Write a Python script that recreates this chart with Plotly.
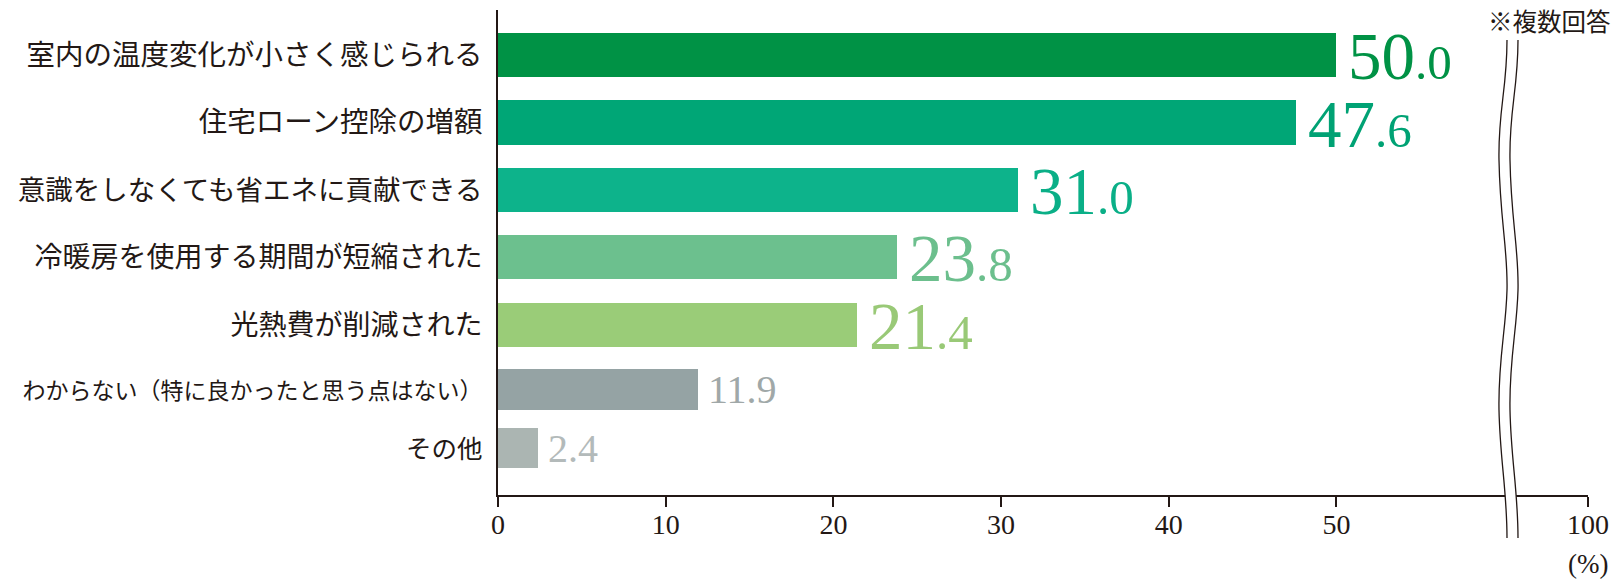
import plotly.graph_objects as go

# ---- data ----
categories = [
    "室内の温度変化が小さく感じられる",
    "住宅ローン控除の増額",
    "意識をしなくても省エネに貢献できる",
    "冷暖房を使用する期間が短縮された",
    "光熱費が削減された",
    "わからない（特に良かったと思う点はない）",
    "その他",
]
values = [50.0, 47.6, 31.0, 23.8, 21.4, 11.9, 2.4]
x_tick_vals = [0, 10, 20, 30, 40, 50]
x_tick_text = ["0", "10", "20", "30", "40", "50"]
break_label = "100"
note_text = "※複数回答"
unit_text = "(%)"

# ---- layout / style constants ----
W, H = 1616, 584
PL, PR, PT, PB = 498, 1588, 10, 495      # plot area in px
X_MAX = 65                                # axis units shown up to the break ("100" drawn at X_MAX)
ROW_Y = [45, 112.5, 180, 247, 315, 379.5, 438]   # row centres (px from plot top)
ROW_W = [44, 45, 44, 44, 44, 41, 40]
bar_colors = ["#009245", "#00a676", "#0db38b", "#6cc08e", "#9acc78", "#95a3a4", "#abb5b2"]
text_colors = ["#009245", "#00a274", "#0aaf87", "#6cbf8d", "#99c977", "#a0a8a8", "#b3baba"]
label_sizes = [28.5, 28.5, 27.5, 28, 28, 23, 25.5]
big_style = [True, True, True, True, True, False, False]

SERIF = "Liberation Serif"
JP = "Noto Sans CJK JP"

fig = go.Figure()
fig.add_trace(go.Bar(
    x=values, y=ROW_Y, orientation="h", width=ROW_W,
    marker=dict(color=bar_colors, line=dict(width=0)),
    hoverinfo="skip",
))

ann = []
for v, yv, col, big in zip(values, ROW_Y, text_colors, big_style):
    s = f"{v:.1f}"
    ip, dp = s.split(".")
    if big:
        txt = f"<span style='font-size:67px'>{ip}</span><span style='font-size:49px'>.{dp}</span>"
        ann.append(dict(x=v, y=yv, xref="x", yref="y", text=txt, showarrow=False,
                        xanchor="left", yanchor="middle", xshift=10, yshift=-1,
                        font=dict(family=SERIF, size=49, color=col)))
    else:
        ann.append(dict(x=v, y=yv, xref="x", yref="y", text=s, showarrow=False,
                        xanchor="left", yanchor="middle", xshift=8, yshift=0,
                        font=dict(family=SERIF, size=40, color=col)))


def px_x(px):
    return (px - PL) / (PR - PL)


def px_y(py):
    return (PB - py) / (PB - PT)


# note and unit
ann.append(dict(x=px_x(1613), y=px_y(1), xref="paper", yref="paper", text=note_text,
                showarrow=False, xanchor="right", yanchor="top",
                font=dict(family=JP, size=24.5, color="#231815")))
ann.append(dict(x=px_x(1588), y=px_y(564), xref="paper", yref="paper", text=unit_text,
                showarrow=False, xanchor="center", yanchor="middle",
                font=dict(family=SERIF, size=27, color="#231815")))

# y labels
ticktext = [f"<span style='font-size:{sz}px'>{c}</span>" for c, sz in zip(categories, label_sizes)]


# axis break (wavy double line)
WAVE = [(1507, 40), (1507, 90, 1498, 110, 1499, 160), (1500, 220, 1508, 250, 1507, 290),
        (1506, 330, 1498, 360, 1499, 410), (1500, 460, 1507, 490, 1507, 538)]
GAP = 11


def wave_path(pts, dx, start="M"):
    d = f"{start} {px_x(pts[0][0] + dx)},{px_y(pts[0][1])}"
    for p in pts[1:]:
        d += " C " + " ".join(f"{px_x(p[i] + dx)},{px_y(p[i + 1])}" for i in (0, 2, 4))
    return d


def reverse(pts):
    segs = []
    prev = pts[0]
    for p in pts[1:]:
        segs.append((prev[-2], prev[-1], p))
        prev = p
    out = [(pts[-1][-2], pts[-1][-1])]
    for start_x, start_y, p in reversed(segs):
        out.append((p[2], p[3], p[0], p[1], start_x, start_y))
    return out


left = wave_path(WAVE, 0)
right = wave_path(WAVE, GAP)
band = left + " " + wave_path(reverse(WAVE), GAP, start="L") + " Z"

shapes = [
    dict(type="path", path=band, xref="paper", yref="paper", fillcolor="white",
         line=dict(width=0), layer="above"),
    dict(type="path", path=left, xref="paper", yref="paper", line=dict(color="#231815", width=1.3), layer="above"),
    dict(type="path", path=right, xref="paper", yref="paper", line=dict(color="#231815", width=1.3), layer="above"),
]

fig.update_layout(
    width=W, height=H,
    margin=dict(l=PL, r=W - PR, t=PT, b=H - PB, pad=0, autoexpand=False),
    paper_bgcolor="white", plot_bgcolor="white",
    showlegend=False,
    xaxis=dict(range=[0, X_MAX], tickvals=x_tick_vals + [X_MAX], ticktext=x_tick_text + [break_label],
               showgrid=False, zeroline=False, showline=True, linecolor="#231815", linewidth=2,
               ticks="outside", ticklen=10, tickwidth=2, tickcolor="#231815", ticklabelstandoff=-7,
               automargin=False,
               tickfont=dict(family=SERIF, size=28, color="#231815"), fixedrange=True),
    yaxis=dict(range=[PB - PT, 0], tickvals=ROW_Y, ticktext=ticktext,
               showgrid=False, zeroline=False, showline=True, linecolor="#231815", linewidth=2,
               ticks="", ticklabelstandoff=8, automargin=False,
               tickfont=dict(family=JP, size=28, color="#231815"), fixedrange=True),
    annotations=ann,
    shapes=shapes,
    bargap=0,
)

fig.write_html("out.html")
